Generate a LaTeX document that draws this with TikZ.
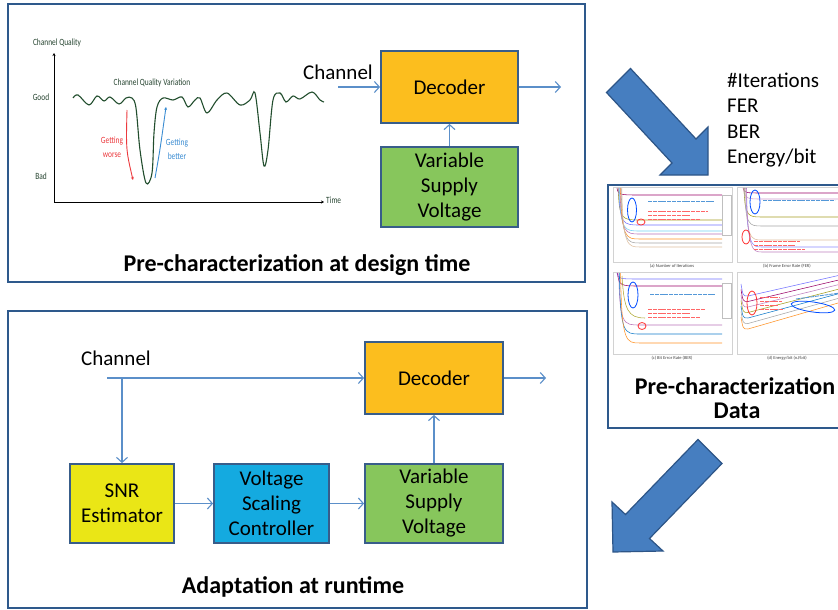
\documentclass[tikz,border=0pt]{standalone}
\usepackage{fontspec}
\setmainfont{Carlito}
\usepackage{graphicx}
\usetikzlibrary{arrows.meta}
\definecolor{frameblue}{RGB}{46,89,140}
\definecolor{boxborder}{RGB}{56,93,138}
\definecolor{connc}{RGB}{91,143,201}
\definecolor{decfill}{RGB}{252,190,30}
\definecolor{vsvfill}{RGB}{135,198,92}
\definecolor{snrfill}{RGB}{234,230,22}
\definecolor{vscfill}{RGB}{20,170,224}
\definecolor{wavegreen}{RGB}{34,78,46}
\definecolor{charttext}{RGB}{40,70,50}
\definecolor{worsered}{RGB}{236,58,62}
\definecolor{betterblue}{RGB}{58,140,210}
\definecolor{bigarrow}{RGB}{70,126,192}
\definecolor{bigarrowedge}{RGB}{45,85,135}
\tikzset{
  panel/.style={draw=frameblue, line width=2.5pt, fill=white},
  blockbox/.style={draw=boxborder, line width=1.8pt, align=center, inner sep=0pt,
    font=\fontsize{21}{25}\selectfont},
  conn/.style={draw=connc, line width=1.1pt, -{Straight Barb[length=5pt,width=11pt]}},
  plainlabel/.style={font=\fontsize{21}{25}\selectfont, inner sep=0pt},
  titletext/.style={font=\bfseries\fontsize{24}{28}\selectfont, inner sep=0pt},
  charttxt/.style={font=\fontsize{9.5}{11}\selectfont, text=charttext, inner sep=0pt},
  bigarrowshape/.style={fill=bigarrow, draw=bigarrowedge, line width=1.2pt, line join=miter},
  minichart/.style={draw=gray!35, line width=0.4pt, fill=white},
  caption/.style={font=\fontsize{4.5}{5}\selectfont, text=black!75, inner sep=0pt},
  curve/.style={line width=0.55pt},
  scrib/.style={line width=0.9pt, dash pattern=on 4pt off 0.8pt},
}
\begin{document}
\begin{tikzpicture}[x=1pt, y=-1pt]
\useasboundingbox (0,0) rectangle (838,610);
\clip (0,0) rectangle (838,610);

% ---------------- top panel ----------------
\draw[panel] (8,4) rectangle (585,282);
\node[titletext] (ttop) at (297,265) {Pre-characterization at design time};

% chart
\node[charttxt] (cq) at (57,43) {\scalebox{0.78}[1]{Channel Quality}};
\node[charttxt] (good) at (41,97) {\scalebox{0.78}[1]{Good}};
\node[charttxt] (bad) at (41,176) {\scalebox{0.78}[1]{Bad}};
\node[charttxt] (cqv) at (152,83) {\scalebox{0.78}[1]{Channel Quality Variation}};
\node[charttxt, anchor=west] (time) at (326,200) {\scalebox{0.78}[1]{Time}};
\coordinate (origin) at (54,202);
\coordinate (ytop) at (54,53);
\coordinate (xend) at (324,202);
\draw[line width=0.8pt, -{Stealth[length=3pt,width=3pt]}] (origin) -- (ytop);
\draw[line width=0.8pt, -{Stealth[length=3pt,width=3pt]}] (origin) -- (xend);

\draw[wavegreen, line width=1.1pt] plot[smooth, tension=0.55] coordinates {
  (73,98) (78,95) (89,105) (97,96) (104,101) (110,97) (119,104) (126,98) (132,98)
  (136,108) (140,150) (146,183) (152,173) (154,133) (157,107) (163,98)
  (173,100) (182,97) (188,107) (195,100) (200,98) (207,113) (217,100) (227,93)
  (240,105) (250,100) (255,93) (260,133) (264,166) (268,150) (273,100)
  (280,93) (286,102) (293,96) (300,99) (312,92) (320,100) (324,102)};

\coordinate (w0) at (127,110);
\coordinate (w1) at (133,180);
\draw[worsered, line width=0.9pt, -{Stealth[length=3pt,width=3pt]}] (w0) .. controls (126,150) .. (w1);
\node[charttxt, text=worsered] (gw1) at (112,141) {\scalebox{0.78}[1]{Getting}};
\node[charttxt, text=worsered] (gw2) at (112,155) {\scalebox{0.78}[1]{worse}};
\coordinate (b0) at (155,178);
\coordinate (b1) at (166,107);
\draw[betterblue, line width=0.9pt, -{Stealth[length=3pt,width=3pt]}] (b0) .. controls (160,150) .. (b1);
\node[charttxt, text=betterblue] (gb1) at (177,143) {\scalebox{0.78}[1]{Getting}};
\node[charttxt, text=betterblue] (gb2) at (177,156) {\scalebox{0.78}[1]{better}};

% blocks
\node[plainlabel] (chtop) at (338,72) {Channel};
\node[blockbox, fill=decfill, minimum width=137pt, minimum height=72pt] (dectop) at (449.5,87) {Decoder};
\node[blockbox, fill=vsvfill, minimum width=137pt, minimum height=80pt] (vsvtop) at (449.5,187) {Variable\\Supply\\Voltage};
\coordinate (chtopin) at (338,87);
\coordinate (dectopout) at (561,87);
\draw[conn] (chtopin) -- (dectop.west);
\draw[conn] (dectop.east) -- (dectopout);
\draw[conn] (vsvtop.north) -- (dectop.south);

% ---------------- bottom panel ----------------
\draw[panel] (8,311) rectangle (587,608);
\node[titletext] (tbot) at (293,587) {Adaptation at runtime};
\node[plainlabel] (chbot) at (116,358) {Channel};
\node[blockbox, fill=decfill, minimum width=138pt, minimum height=72pt] (decbot) at (434,378) {Decoder};
\node[blockbox, fill=vsvfill, minimum width=138pt, minimum height=79pt] (vsvbot) at (434,503.5) {Variable\\Supply\\Voltage};
\node[blockbox, fill=snrfill, minimum width=104pt, minimum height=79pt] (snr) at (122,503.5) {SNR\\Estimator};
\node[blockbox, fill=vscfill, minimum width=115pt, minimum height=79pt] (vsc) at (271.5,503.5) {Voltage\\Scaling\\Controller};
\coordinate (chbotin) at (107,378);
\coordinate (branch) at (122,378);
\coordinate (decbotout) at (546,378);
\draw[conn] (chbotin) -- (decbot.west);
\draw[conn] (branch) -- (snr.north);
\draw[conn] (snr.east) -- (vsc.west);
\draw[conn] (vsc.east) -- (vsvbot.west);
\draw[conn] (vsvbot.north) -- (decbot.south);
\draw[conn] (decbot.east) -- (decbotout);

% ---------------- right side ----------------
\node[plainlabel, anchor=west, align=left, font=\fontsize{21}{25.2}\selectfont] (metrics) at (727,120)
  {\#Iterations\\FER\\BER\\Energy/bit};

\draw[bigarrowshape] (630.5,68.5) -- (696,139) -- (708,127) -- (708,175) -- (660,175) -- (672,163) -- (606.5,92.5) -- cycle;
\draw[bigarrowshape] (698,439.5) -- (722,463.5) -- (649.5,538.5) -- (663,551) -- (613,552) -- (612,502) -- (625.5,514.5) -- cycle;

% data panel
\draw[panel] (608,185) rectangle (848,428);
\node[titletext] (dt1) at (735,386) {Pre-characterization};
\node[titletext] (dt2) at (737,411) {Data};

% mini chart a
\draw[minichart] (613,187) rectangle (732,262);
\foreach \lv/\cl/\dd in {195/red!60!blue/0, 220/olive!80/2, 225/blue!55/3, 231/cyan!55/4, 234/violet!55/5, 239/orange!85/6, 243/gray!70/7, 247/brown!50/8}
  \draw[curve, \cl] (617+\dd*0.6,188) .. controls (618+\dd*0.6,\lv) and (620+\dd,\lv) .. (640,\lv) -- (722,\lv);
\draw[gray!50, line width=0.4pt] (722,195) rectangle (731,235);
\draw[blue!70!cyan, line width=0.8pt] (632,210) ellipse [x radius=4.5, y radius=12];
\draw[red!80, line width=0.8pt] (641,222) ellipse [x radius=4, y radius=3];
\draw[scrib, cyan!60!blue!70] (648,201) -- (715,201);
\draw[scrib, red!60] (648,211) -- (708,211);
\draw[scrib, red!60] (648,215) -- (690,215);
\draw[scrib, red!60] (648,219) -- (700,219);
\node[caption] (capa) at (672,266) {(a) Number of Iterations};

% mini chart b
\draw[minichart] (737,187) rectangle (845,262);
\foreach \lv/\cl/\dd in {193/red!60!blue/0, 199/violet!40/1, 217/olive!80/2, 226/gray!70/3, 240/brown!50/5, 247/blue!45/6, 252/violet!50/7}
  \draw[curve, \cl] (743+\dd*0.5,188) .. controls (744+\dd*0.5,\lv) and (746+\dd,\lv) .. (762,\lv) -- (845,\lv);
\draw[blue!70!cyan, line width=0.8pt] (755,202) ellipse [x radius=5, y radius=12];
\draw[red!80, line width=0.8pt] (746,237) ellipse [x radius=4, y radius=7];
\draw[scrib, cyan!60!blue!70] (763,200) -- (835,200);
\draw[scrib, red!60] (754,241) -- (800,241);
\draw[scrib, red!60] (754,245) -- (795,245);
\draw[scrib, red!60] (754,249) -- (805,249);
\node[caption] (capb) at (787,266) {(b) Frame Error Rate (FER)};

% mini chart c
\draw[minichart] (613,272) rectangle (732,354);
\foreach \lv/\cl/\dd in {279/blue!55/0, 286/red!60!blue/1, 325/violet!55/3, 334/cyan!60!blue/4, 343/orange!85/6}
  \draw[curve, \cl] (617+\dd*0.6,273) .. controls (618+\dd*0.6,\lv) and (620+\dd,\lv) .. (640,\lv) -- (722,\lv);
\draw[curve, olive!70] (622,276) .. controls (624,310) and (628,318) .. (645,318);
\draw[gray!50, line width=0.4pt] (722,283) rectangle (731,318);
\draw[blue!70!cyan, line width=0.8pt] (633,295) ellipse [x radius=5, y radius=13];
\draw[red!80, line width=0.8pt] (642,326) ellipse [x radius=4, y radius=3.5];
\draw[scrib, cyan!60!blue!70] (650,294) -- (715,294);
\draw[scrib, red!60] (648,309) -- (705,309);
\draw[scrib, red!60] (648,313) -- (690,313);
\draw[scrib, red!60] (648,317) -- (700,317);
\node[caption] (capc) at (672,358) {(c) Bit Error Rate (BER)};

% mini chart d
\draw[minichart] (737,272) rectangle (845,354);
\foreach \i/\cl in {0/blue!55, 1/red!60!blue, 2/violet!50, 3/olive!80, 4/cyan!60!blue, 5/gray!70, 6/orange!85}
  \draw[curve, \cl] (741,284+5.5*\i) .. controls (743,296+5.5*\i) .. (748,296+5.5*\i) -- (845,274+4.5*\i);
\draw[red!80, line width=0.8pt] (752,303) ellipse [x radius=5, y radius=12];
\draw[blue!70!cyan, line width=0.8pt, rotate around={-8:(813,307)}] (813,307) ellipse [x radius=22, y radius=5];
\draw[scrib, red!60] (760,297) -- (780,297);
\draw[scrib, red!60] (760,301) -- (782,301);
\draw[scrib, red!60] (760,305) -- (778,305);
\draw[scrib, red!60] (760,309) -- (784,309);
\draw[scrib, cyan!60!blue!70] (796,299) -- (840,293);
\node[caption] (capd) at (787,358) {(d) Energy/bit (nJ/bit)};
\end{tikzpicture}
\end{document}
